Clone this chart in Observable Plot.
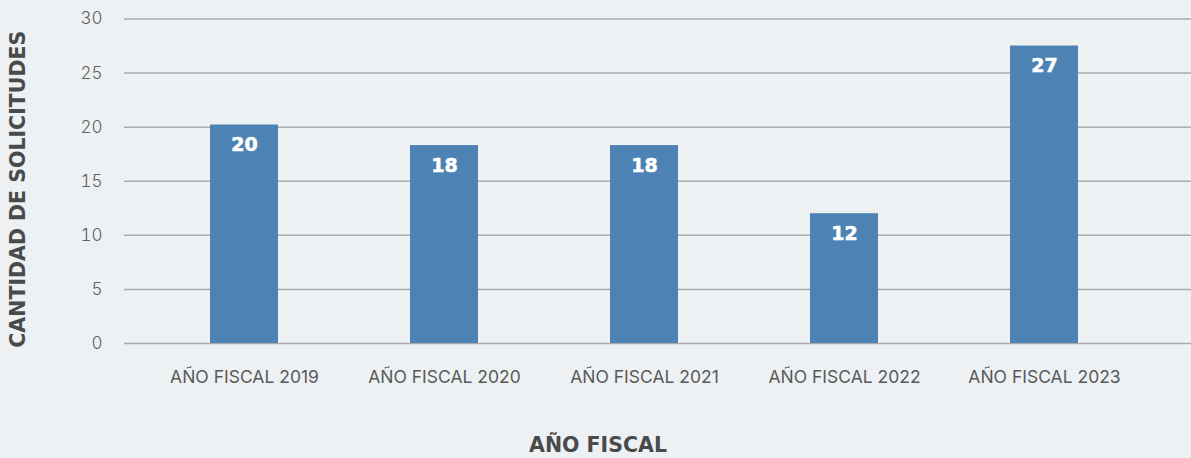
<!DOCTYPE html>
<html><head><meta charset="utf-8">
<script src="https://cdn.jsdelivr.net/npm/d3@7"></script>
<script src="https://cdn.jsdelivr.net/npm/@observablehq/plot@0.6"></script>
<style>
html,body{margin:0;padding:0;background:#edf1f3;}
#chart{width:1191px;height:458px;}
</style></head><body><div id="chart"></div>
<script>
const categories = ["AÑO FISCAL 2019","AÑO FISCAL 2020","AÑO FISCAL 2021","AÑO FISCAL 2022","AÑO FISCAL 2023"];
const values = [20.2, 18.3, 18.3, 12.0, 27.5];
const labels = ["20","18","18","12","27"];
const yTicks = [0,5,10,15,20,25,30];

const data = categories.map((c,i)=>({cat:c, v:values[i], label:labels[i]}));
const font = "Inter, 'Noto Sans', sans-serif";
const heavy = "'DejaVu Sans', sans-serif";
const chart = Plot.plot({
  width: 1191, height: 458,
  marginTop: 18.5, marginBottom: 115, marginLeft: 124, marginRight: 0,
  style: {background: "#edf1f3", fontFamily: font, fontSize: "16px", color: "#595959"},
  x: {domain: categories, range: [144, 1144], paddingInner: 0.66, paddingOuter: 0.33, label: null},
  y: {domain: [0,30], label: null},
  marks: [
    Plot.ruleY(yTicks, {stroke: "#a9abad", strokeWidth: 1.5}),
    Plot.barY(data, {x: "cat", y: "v", fill: "#4d82b4"}),
    Plot.text(data, {x: "cat", y: "v", text: "label", dy: 20, fill: "white", fontWeight: "bold", fontSize: 19, fontFamily: heavy, stroke: "white", strokeWidth: 0.6}),
    Plot.axisY(yTicks, {tickSize: 0, tickPadding: 0, dx: -22, fontSize: 17, fill: "#5f5f5f", fontWeight: 300}),
    Plot.axisX(categories, {tickSize: 0, tickPadding: 0, dy: 27, fontSize: 17.5, fill: "#595959", label: null}),
    Plot.text(["AÑO FISCAL"], {frameAnchor: "bottom", dx: -60, dy: 108, text: d=>d, fontFamily: heavy, fontWeight: "bold", fontSize: 20.5, fill: "#4a4a4a"}),
    Plot.text(["CANTIDAD DE SOLICITUDES"], {frameAnchor: "left", textAnchor: "middle", dx: -106, dy: 8, rotate: -90, text: d=>d, fontFamily: heavy, fontWeight: "bold", fontSize: 20.5, fill: "#4a4a4a"})
  ]
});
document.getElementById("chart").append(chart);
</script></body></html>
